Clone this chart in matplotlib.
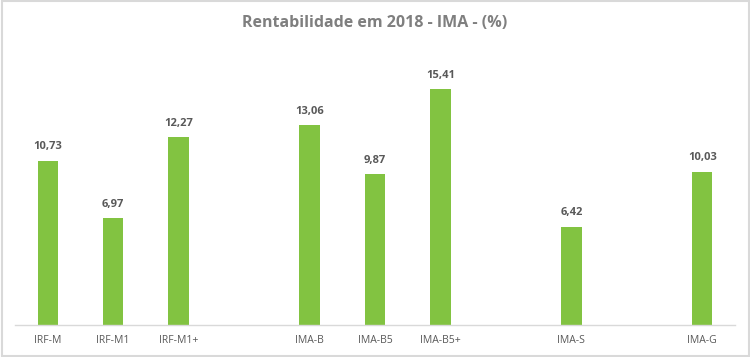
import matplotlib
matplotlib.use("Agg")
import matplotlib.pyplot as plt
from matplotlib.patches import Rectangle

categories = ["IRF-M", "IRF-M1", "IRF-M1+", "", "IMA-B", "IMA-B5", "IMA-B5+", "", "IMA-S", "", "IMA-G"]
values = [10.73, 6.97, 12.27, None, 13.06, 9.87, 15.41, None, 6.42, None, 10.03]
title = "Rentabilidade em 2018 - IMA - (%)"

plt.rcParams['font.family'] = ['Open Sans', 'DejaVu Sans']

fig = plt.figure(figsize=(7.5, 3.57), dpi=100)
fig.patch.set_facecolor("white")
fig.add_artist(Rectangle((0.002, 0.003), 0.996, 0.994, transform=fig.transFigure,
                         fill=False, edgecolor="#d9d9d9", linewidth=1.5))

ax = fig.add_axes([0.02, 0.0896, 0.96, 0.7714])
xs = list(range(len(categories)))
for x, v in zip(xs, values):
    if v is None:
        continue
    ax.bar(x, v, width=0.31, color="#82c341", zorder=2)
    ax.text(x, v + 0.55, f"{v:.2f}".replace(".", ","), ha="center", va="bottom",
            fontsize=8, fontweight="bold", color="#595959")

ax.set_xlim(-0.5, len(categories) - 0.5)
ax.set_ylim(0, 18)
ax.set_xticks(xs)
ax.set_xticklabels(categories, fontsize=7.5, color="#595959")
ax.tick_params(axis="x", length=0, pad=7)
ax.set_yticks([])
for s in ["top", "right", "left"]:
    ax.spines[s].set_visible(False)
ax.spines["bottom"].set_color("#d9d9d9")
ax.spines["bottom"].set_linewidth(1)

fig.text(0.5, 0.935, title, ha="center", va="center", fontsize=11.5,
         fontweight="bold", color="#7f7f7f")

fig.savefig("out.png", dpi=100)
